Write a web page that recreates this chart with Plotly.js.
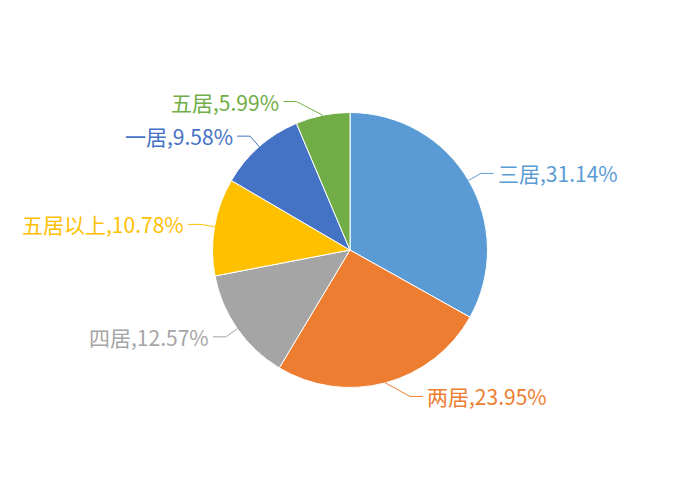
<!DOCTYPE html>
<html>
<head>
<meta charset="utf-8">
<script src="https://cdn.plot.ly/plotly-3.0.1.min.js"></script>
<style>html,body{margin:0;padding:0;background:#fff;}#chart{width:700px;height:500px;}</style>
</head>
<body>
<div id="chart"></div>
<script>
// ---- data ----
const categories = ["三居", "两居", "四居", "五居以上", "一居", "五居"];
const shares = [31.14, 23.95, 12.57, 10.78, 9.58, 5.99];
const colors = ["#5B9BD5", "#ED7D31", "#A5A5A5", "#FFC000", "#4472C4", "#70AD47"];

// ---- layout constants ----
const W = 700, H = 500;
const CX = 350, CY = 250, R = 137.5;
const FONT = '"Microsoft YaHei","Noto Sans CJK SC","Noto Sans",sans-serif';

const total = shares.reduce((a, b) => a + b, 0);
const shapes = [], annotations = [];
let cum = 0;
const px = x => x / W, py = y => 1 - y / H;
shares.forEach((v, i) => {
  const mid = (cum + v / 2) / total * 2 * Math.PI;
  cum += v;
  const s = Math.sin(mid), c = Math.cos(mid);
  const side = s >= 0 ? 1 : -1;
  const ax = CX + R * s, ay = CY - R * c;
  const extra = 180 * Math.max(0, Math.abs(c) - 0.85);
  const ex = ax + 14 * s + side * extra, ey = ay - 14 * c;
  const hx = ex + side * 13;
  shapes.push({
    type: 'path', xref: 'paper', yref: 'paper',
    path: `M ${px(ax)} ${py(ay)} L ${px(ex)} ${py(ey)} L ${px(hx)} ${py(ey)}`,
    line: {color: colors[i], width: 1}
  });
  annotations.push({
    xref: 'paper', yref: 'paper', x: px(hx + side * 2), y: py(ey),
    xanchor: side > 0 ? 'left' : 'right', yanchor: 'middle',
    showarrow: false, text: categories[i] + ',' + v.toFixed(2) + '%',
    font: {family: FONT, size: 21, color: colors[i]}
  });
});

const trace = {
  type: 'pie', labels: categories, values: shares, sort: false,
  direction: 'clockwise', rotation: 0,
  marker: {colors: colors, line: {color: '#ffffff', width: 1}},
  textinfo: 'none', hoverinfo: 'skip', showlegend: false,
  domain: {x: [(CX - R) / W, (CX + R) / W], y: [1 - (CY + R) / H, 1 - (CY - R) / H]}
};

Plotly.newPlot('chart', [trace], {
  width: W, height: H, margin: {l: 0, r: 0, t: 0, b: 0},
  paper_bgcolor: '#ffffff', plot_bgcolor: '#ffffff',
  showlegend: false, shapes: shapes, annotations: annotations,
  font: {family: FONT}
}, {staticPlot: true});
</script>
</body>
</html>
